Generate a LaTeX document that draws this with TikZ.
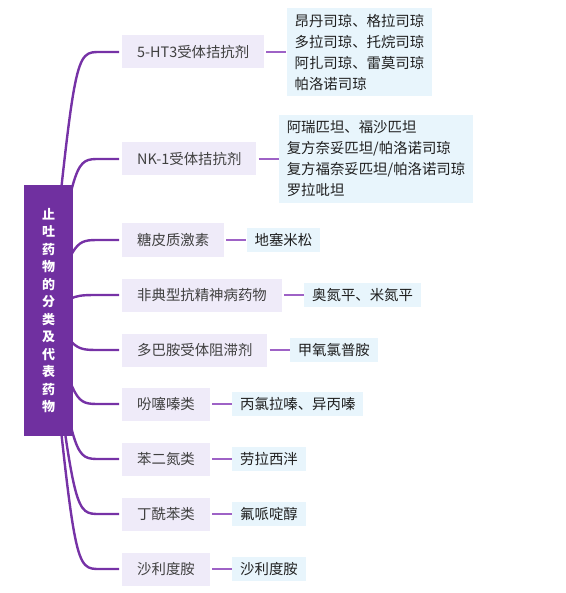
\documentclass[tikz,border=0pt]{standalone}
\usepackage{fontspec}
\setmainfont{Noto Sans CJK SC}
\usetikzlibrary{positioning,calc,backgrounds}
\definecolor{rootpurple}{HTML}{7030A0}
\definecolor{trunkpurple}{HTML}{7632A6}
\definecolor{twigpurple}{HTML}{9E62C6}
\definecolor{branchfill}{HTML}{EFEBF9}
\definecolor{leaffill}{HTML}{E8F5FC}
\definecolor{branchtext}{HTML}{404040}

\begin{document}
\begin{tikzpicture}[
  x=1pt, y=-1pt,
  font=\fontsize{14.4}{21}\selectfont,
  hub/.style={fill=rootpurple, text=white, font=\fontsize{13}{17.5}\selectfont\bfseries, align=center, minimum width=49pt, minimum height=251pt, inner sep=0pt},
  branch/.style={fill=branchfill, text=branchtext, minimum height=33pt, inner xsep=15pt, inner ysep=0pt, anchor=west},
  leaf/.style={fill=leaffill, text=black!88, align=left, inner xsep=8pt, inner ysep=5.5pt},
  trunk/.style={draw=trunkpurple, line width=2.4pt, shorten >=3pt},
  twig/.style={draw=twigpurple, line width=2pt, shorten <=2pt},
  node distance=22pt
]
\useasboundingbox (0,0) rectangle (565,593);

\node[hub] (root) at (48.5,310.5) {止\\吐\\药\\物\\的\\分\\类\\及\\代\\表\\药\\物};

\node[branch] (ht3) at (122,52) {5-HT3受体拮抗剂};
\node[branch] (nk1) at (122,159) {NK-1受体拮抗剂};
\node[branch] (gluco) at (122,240) {糖皮质激素};
\node[branch] (atyp) at (122,295) {非典型抗精神病药物};
\node[branch] (dopa) at (122,350) {多巴胺受体阻滞剂};
\node[branch] (pheno) at (122,404) {吩噻嗪类};
\node[branch] (benzo) at (122,459) {苯二氮类};
\node[branch] (butyro) at (122,514) {丁酰苯类};
\node[branch] (thalid) at (122,569) {沙利度胺};

\node[leaf, right=of ht3] (ht3drugs) {昂丹司琼、格拉司琼\\多拉司琼、托烷司琼\\阿扎司琼、雷莫司琼\\帕洛诺司琼};
\node[leaf, right=of nk1] (nk1drugs) {阿瑞匹坦、福沙匹坦\\复方奈妥匹坦/帕洛诺司琼\\复方福奈妥匹坦/帕洛诺司琼\\罗拉吡坦};
\node[leaf, right=of gluco] (glucodrugs) {地塞米松};
\node[leaf, right=of atyp] (atypdrugs) {奥氮平、米氮平};
\node[leaf, right=of dopa] (dopadrugs) {甲氧氯普胺};
\node[leaf, right=of pheno] (phenodrugs) {丙氯拉嗪、异丙嗪};
\node[leaf, right=of benzo] (benzodrugs) {劳拉西泮};
\node[leaf, right=of butyro] (butyrodrugs) {氟哌啶醇};
\node[leaf, right=of thalid] (thaliddrugs) {沙利度胺};

\begin{scope}[on background layer]
\draw[trunk] (root.center) .. controls ($(root.east |- ht3.west)+(2pt,0)$) .. ($(ht3.west)+(-22pt,0)$) -- (ht3.west);
\draw[trunk] (root.center) .. controls ($(root.east |- nk1.west)+(2pt,0)$) .. ($(nk1.west)+(-22pt,0)$) -- (nk1.west);
\draw[trunk] (root.center) .. controls ($(root.east |- gluco.west)+(2pt,0)$) .. ($(gluco.west)+(-22pt,0)$) -- (gluco.west);
\draw[trunk] (root.center) .. controls ($(root.east |- atyp.west)+(2pt,0)$) .. ($(atyp.west)+(-22pt,0)$) -- (atyp.west);
\draw[trunk] (root.center) .. controls ($(root.east |- dopa.west)+(2pt,0)$) .. ($(dopa.west)+(-22pt,0)$) -- (dopa.west);
\draw[trunk] (root.center) .. controls ($(root.east |- pheno.west)+(2pt,0)$) .. ($(pheno.west)+(-22pt,0)$) -- (pheno.west);
\draw[trunk] (root.center) .. controls ($(root.east |- benzo.west)+(2pt,0)$) .. ($(benzo.west)+(-22pt,0)$) -- (benzo.west);
\draw[trunk] (root.center) .. controls ($(root.east |- butyro.west)+(2pt,0)$) .. ($(butyro.west)+(-22pt,0)$) -- (butyro.west);
\draw[trunk] (root.center) .. controls ($(root.east |- thalid.west)+(2pt,0)$) .. ($(thalid.west)+(-22pt,0)$) -- (thalid.west);
\end{scope}

\draw[twig] (ht3) -- (ht3drugs);
\draw[twig] (nk1) -- (nk1drugs);
\draw[twig] (gluco) -- (glucodrugs);
\draw[twig] (atyp) -- (atypdrugs);
\draw[twig] (dopa) -- (dopadrugs);
\draw[twig] (pheno) -- (phenodrugs);
\draw[twig] (benzo) -- (benzodrugs);
\draw[twig] (butyro) -- (butyrodrugs);
\draw[twig] (thalid) -- (thaliddrugs);
\end{tikzpicture}
\end{document}
